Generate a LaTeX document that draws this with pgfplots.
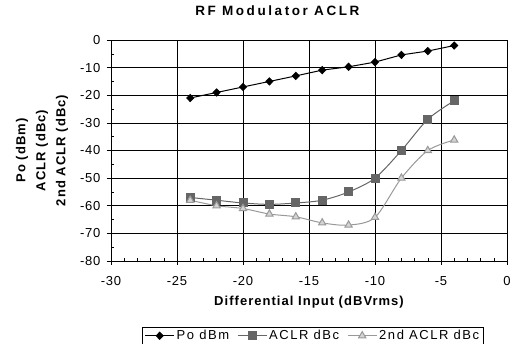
\documentclass[border=0pt]{standalone}
\usepackage{fontspec}
\setmainfont{Liberation Sans}
\newfontfamily\tickfont[LetterSpace=6]{Liberation Sans}
\newfontfamily\legfont[LetterSpace=12]{Liberation Sans}
\newfontfamily\labfont[LetterSpace=8]{Liberation Sans}
\newfontfamily\titfont[LetterSpace=19]{Liberation Sans}
\usepackage{pgfplots}
\pgfplotsset{compat=1.18}
\definecolor{aclr}{HTML}{666666}
\definecolor{secl}{HTML}{999999}
\definecolor{secf}{HTML}{D4D4D4}
\begin{document}
\begin{tikzpicture}
\useasboundingbox (-111pt,-83pt) rectangle (399pt,261pt);
\begin{axis}[
  at={(0,0)}, anchor=south west,
  scale only axis, width=396pt, height=221pt,
  xmin=-30, xmax=0, ymin=-80, ymax=0,
  xtick={-30,-25,...,0}, ytick={-80,-70,...,0},
  minor x tick num=4, minor y tick num=1,
  xtick pos=bottom, ytick pos=left,
  tick align=outside,
  major tick length=4pt, minor tick length=3pt,
  minor x tick style={yshift=3pt},
  minor y tick style={xshift=3pt},
  tick style={black, line width=0.6pt},
  grid=major,
  major grid style={black, line width=0.6pt},
  axis line style={black, line width=0.8pt},
  /pgf/number format/assume math mode=true,
  ticklabel style={font=\tickfont\fontsize{13}{15}\selectfont},
  xticklabel style={yshift=-8pt},
  yticklabel style={xshift=-3pt},
  title={RF Modulator ACLR},
  title style={font=\titfont\bfseries\fontsize{13.5}{15}\selectfont, at={(0.42,1)}, anchor=center, yshift=23pt},
  xlabel={Differential Input (dBVrms)},
  xlabel style={font=\labfont\bfseries\fontsize{13}{15}\selectfont, at={(axis description cs:0.5,0)}, anchor=center, yshift=-41pt},
  ylabel={Po (dBm)\\ACLR (dBc)\\2nd ACLR (dBc)},
  ylabel style={font=\labfont\bfseries\fontsize{13}{20}\selectfont, align=center, at={(axis description cs:-0.1742,0.5)}, anchor=center},
  legend columns=3,
  legend style={at={(axis description cs:0.51,0)}, anchor=north, yshift=-66pt,
    draw=black, line width=0.6pt, font=\legfont\fontsize{13}{15}\selectfont,
    inner xsep=2pt, inner ysep=1pt},
  legend image code/.code={\draw[mark repeat=2,mark phase=2] plot coordinates {(0pt,0pt) (14.5pt,0pt) (29pt,0pt)};},
  /tikz/every even column/.append style={column sep=6pt},
]
\addplot[black, line width=1pt, mark=diamond*, mark size=3.5pt, mark options={xscale=1.3, fill=black}] coordinates {
(-24,-21) (-22,-19) (-20,-17) (-18,-15) (-16,-13) (-14,-10.9) (-12,-9.7) (-10,-8) (-8,-5.4) (-6,-4) (-4,-2)};
\addlegendentry{Po dBm}
\addplot[aclr, line width=1pt, smooth, tension=0.5, mark=square*, mark size=4pt, mark options={fill=aclr, draw=aclr}] coordinates {
(-24,-57) (-22,-58) (-20,-59) (-18,-59.5) (-16,-59) (-14,-58) (-12,-55) (-10,-50) (-8,-40) (-6,-28.7) (-4,-22)};
\addlegendentry{ACLR dBc}
\addplot[secl, line width=1pt, smooth, tension=0.5, mark=triangle*, mark size=4.2pt, mark options={fill=secf, draw=secl}] coordinates {
(-24,-58) (-22,-60) (-20,-61) (-18,-63) (-16,-64) (-14,-66.2) (-12,-67) (-10,-64.2) (-8,-50) (-6,-40) (-4,-36.2)};
\addlegendentry{2nd ACLR dBc}
\end{axis}
\end{tikzpicture}
\end{document}
